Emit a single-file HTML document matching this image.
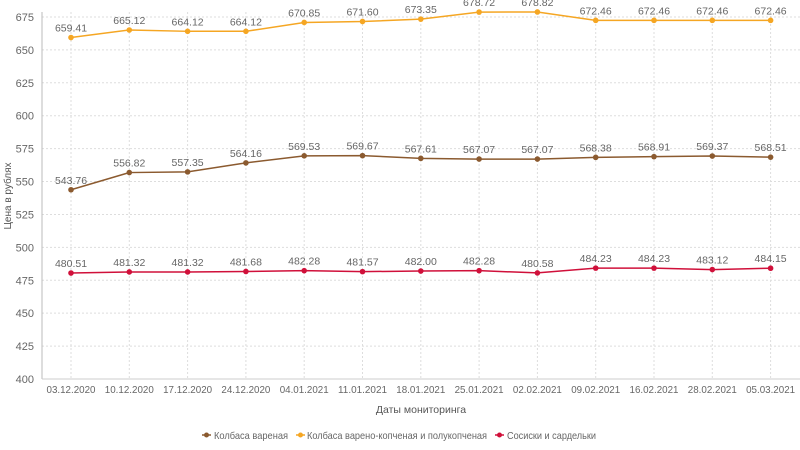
<!DOCTYPE html><html><head><meta charset="utf-8"><style>body{margin:0;background:#fff}svg{display:block;font-family:"Liberation Sans",sans-serif}</style></head><body>
<svg width="800" height="450" xmlns="http://www.w3.org/2000/svg" id="s"></svg>
<script>
const s=document.getElementById('s');
const Y=v=>379-(v-400)*1.3164, X=i=>71+i*58.3;
let h='';
for(let v=400;v<=675;v+=25){const y=Y(v);h+=`<line x1="42" x2="800" y1="${y}" y2="${y}" stroke="#ddd" stroke-dasharray="2,2"/><text x="34" y="${y+4}" font-size="11" fill="#666" text-anchor="end">${v}</text>`;}
const d=['03.12.2020','10.12.2020','17.12.2020','24.12.2020','04.01.2021','11.01.2021','18.01.2021','25.01.2021','02.02.2021','09.02.2021','16.02.2021','28.02.2021','05.03.2021'];
d.forEach((t,i)=>{h+=`<line x1="${X(i)}" x2="${X(i)}" y1="12" y2="379" stroke="#ddd" stroke-dasharray="2,2"/><text x="${X(i)}" y="393" font-size="10.5" fill="#666" text-anchor="middle" textLength="49" lengthAdjust="spacingAndGlyphs">${t}</text>`;});
h+=`<line x1="42" x2="42" y1="12" y2="379" stroke="#bbb"/><line x1="42" x2="800" y1="379" y2="379" stroke="#ccc"/>`;
const S=[['#f5a623',[659.41,665.12,664.12,664.12,670.85,671.60,673.35,678.72,678.82,672.46,672.46,672.46,672.46]],
['#8b5a2f',[543.76,556.82,557.35,564.16,569.53,569.67,567.61,567.07,567.07,568.38,568.91,569.37,568.51]],
['#d0103a',[480.51,481.32,481.32,481.68,482.28,481.57,482.00,482.28,480.58,484.23,484.23,483.12,484.15]]];
S.forEach(([c,a])=>{h+=`<polyline fill="none" stroke="${c}" stroke-width="1.5" points="${a.map((v,i)=>X(i)+','+Y(v)).join(' ')}"/>`;
a.forEach((v,i)=>{h+=`<circle cx="${X(i)}" cy="${Y(v)}" r="2.8" fill="${c}"/><text x="${X(i)}" y="${Y(v)-6}" font-size="10.5" fill="#666" text-anchor="middle">${v.toFixed(2)}</text>`;});});
h+=`<text x="11" y="196" font-size="10" fill="#555" text-anchor="middle" transform="rotate(-90 11 196)">Цена в рублях</text>`;
h+=`<text x="421" y="413" font-size="10.5" fill="#555" text-anchor="middle">Даты мониторинга</text>`;
const L=[[202,'#8b5a2f','Колбаса вареная',214,74],[296,'#f5a623','Колбаса варено-копченая и полукопченая',307,180],[495,'#d0103a','Сосиски и сардельки',507,89]];
L.forEach(([x,c,t,tx,w])=>{h+=`<line x1="${x}" x2="${x+9}" y1="435" y2="435" stroke="${c}" stroke-width="1.5"/><circle cx="${x+4.5}" cy="435" r="2.5" fill="${c}"/><text x="${tx}" y="439" font-size="10.5" fill="#666" textLength="${w}" lengthAdjust="spacingAndGlyphs">${t}</text>`;});
s.innerHTML=h;
</script></body></html>
